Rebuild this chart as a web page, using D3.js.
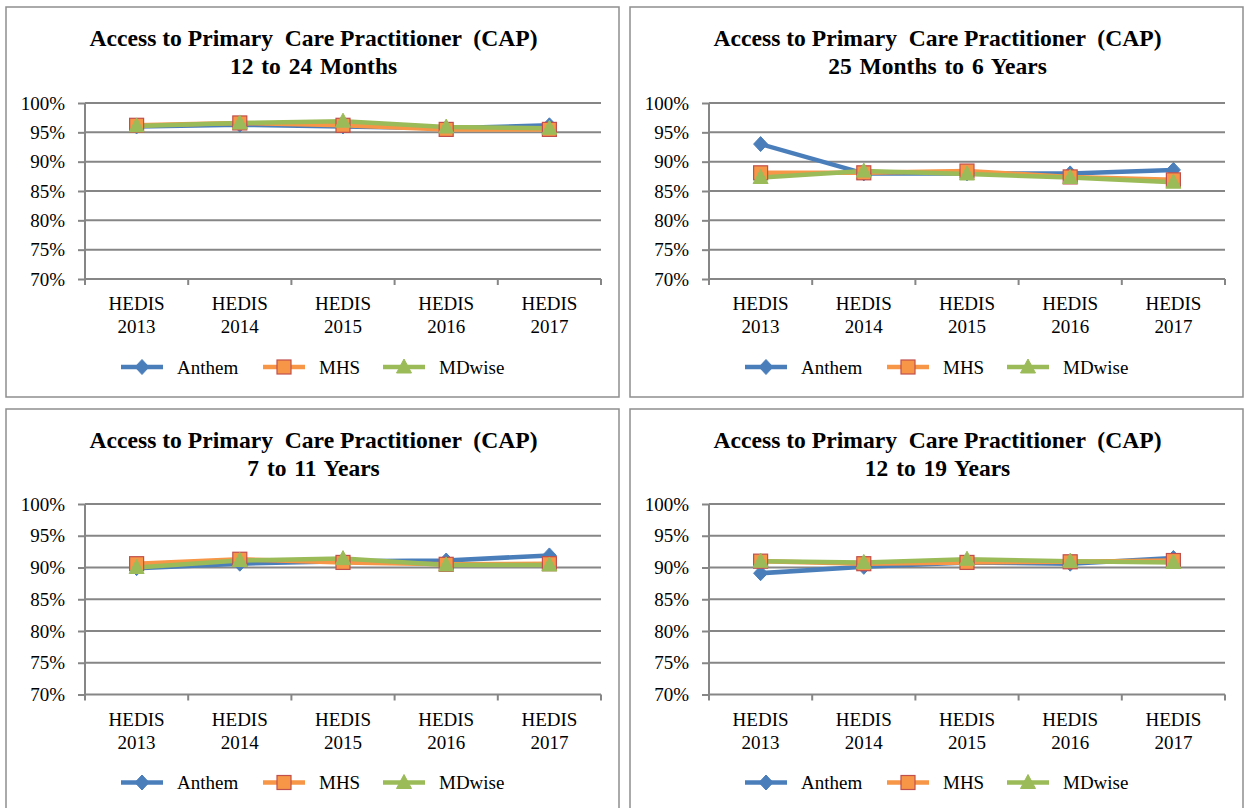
<!DOCTYPE html>
<head>
  <meta charset="utf-8">
  <script src="https://cdn.jsdelivr.net/npm/d3@7"></script>
  <style>
    body { margin:0; background:#fff; }
    text { font-family: "Liberation Serif", "Times New Roman", serif; fill:#000; }
  </style>
</head>
<body>
<script>
// categories and series (percent)
const categories = ["HEDIS 2013", "HEDIS 2014", "HEDIS 2015", "HEDIS 2016", "HEDIS 2017"];
const yTicks = [70, 75, 80, 85, 90, 95, 100];
const seriesNames = ["Anthem", "MHS", "MDwise"];
const titleMain = "Access to Primary  Care Practitioner  (CAP)";
const subtitles = ["12 to 24 Months", "25 Months to 6 Years", "7 to 11 Years", "12 to 19 Years"];

const anthem12to24m = [96.0, 96.3, 96.0, 95.7, 96.2];
const mhs12to24m    = [96.2, 96.6, 96.2, 95.5, 95.5];
const mdwise12to24m = [96.1, 96.6, 96.9, 95.9, 95.7];

const anthem25mto6y = [93.0, 88.0, 88.0, 88.0, 88.6];
const mhs25mto6y    = [88.1, 88.1, 88.4, 87.4, 86.9];
const mdwise25mto6y = [87.3, 88.4, 87.9, 87.3, 86.5];

const anthem7to11y = [89.9, 90.6, 91.0, 91.1, 91.9];
const mhs7to11y    = [90.6, 91.3, 90.8, 90.5, 90.6];
const mdwise7to11y = [90.0, 91.1, 91.4, 90.4, 90.4];

const anthem12to19y = [89.1, 90.1, 90.8, 90.6, 91.5];
const mhs12to19y    = [91.0, 90.6, 90.8, 90.9, 91.1];
const mdwise12to19y = [91.0, 90.8, 91.3, 91.0, 90.8];

const colors = ["#4a7ebb", "#f79646", "#9bbb59"];

let width = 1245, height = 808;
let svg = d3.select("body").append("svg")
  .attr("width", width).attr("height", height);

const panels = [
  { x: 6,   y: 7,   h: 390, top: 96, bottom: 272, sub: subtitles[0], data: [anthem12to24m, mhs12to24m, mdwise12to24m] },
  { x: 630, y: 7,   h: 390, top: 96, bottom: 272, sub: subtitles[1], data: [anthem25mto6y, mhs25mto6y, mdwise25mto6y] },
  { x: 6,   y: 409, h: 410, top: 95, bottom: 285.5, sub: subtitles[2], data: [anthem7to11y, mhs7to11y, mdwise7to11y] },
  { x: 630, y: 409, h: 410, top: 95, bottom: 285.5, sub: subtitles[3], data: [anthem12to19y, mhs12to19y, mdwise12to19y] }
];

function marker(sel, i) {
  if (i === 0) {
    sel.append("path").attr("d", "M0,-7.5L7,0L0,7.5L-7,0Z")
      .attr("fill", colors[0]).attr("stroke", colors[0]).attr("stroke-width", 1);
  } else if (i === 1) {
    sel.append("rect").attr("x", -7).attr("y", -7).attr("width", 14).attr("height", 14)
      .attr("fill", colors[1]).attr("stroke", "#c0504d").attr("stroke-width", 1.2);
  } else {
    sel.append("path").attr("d", "M0,-8L7.5,6L-7.5,6Z")
      .attr("fill", colors[2]).attr("stroke", colors[2]).attr("stroke-width", 1);
  }
}

panels.forEach(p => {
  let g = svg.append("g").attr("transform", `translate(${p.x},${p.y})`);
  let w = 613;
  let left = 79, right = 595;

  g.append("rect").attr("x", 0).attr("y", 0).attr("width", w).attr("height", p.h)
    .attr("fill", "#fff").attr("stroke", "#8e8e8e").attr("stroke-width", 1.5);

  // title
  let t = g.append("text").attr("text-anchor", "middle")
    .style("font-weight", "bold").style("font-size", "23.5px").style("white-space", "pre");
  t.append("tspan").attr("x", w / 2 + 1).attr("y", 39)
    .attr("textLength", 448).attr("lengthAdjust", "spacingAndGlyphs").text(titleMain);
  t.append("tspan").attr("x", w / 2 + 1).attr("y", 67)
    .style("word-spacing", "2px").text(p.sub);

  let x = d3.scaleBand().domain(categories).range([left, right]);
  let y = d3.scaleLinear().domain([70, 100]).range([p.bottom, p.top]);

  // gridlines
  g.selectAll(".grid").data(yTicks).enter().append("line")
    .attr("x1", left).attr("x2", right)
    .attr("y1", d => y(d)).attr("y2", d => y(d))
    .attr("stroke", "#868686").attr("stroke-width", 2);

  // y axis
  let ya = g.append("g").attr("transform", `translate(${left},0)`)
    .call(d3.axisLeft(y).tickValues(yTicks).tickSize(7).tickPadding(13).tickFormat(d => d + "%"));
  ya.select(".domain").attr("stroke", "#868686").attr("stroke-width", 2).attr("d", `M0,${p.top}V${p.bottom}`);
  ya.selectAll(".tick line").attr("stroke", "#868686").attr("stroke-width", 2);
  ya.selectAll(".tick text").style("font-size", "19px").style("font-family", "Liberation Serif");

  // x axis boundary ticks
  let bounds = categories.map(c => x(c)).concat([x.range()[1]]);
  g.selectAll(".xt").data(bounds).enter().append("line")
    .attr("x1", d => d).attr("x2", d => d)
    .attr("y1", p.bottom).attr("y2", p.bottom + 6)
    .attr("stroke", "#868686").attr("stroke-width", 2);

  // x labels
  categories.forEach(c => {
    let parts = c.split(" ");
    let tx = g.append("text").attr("text-anchor", "middle").style("font-size", "19px");
    tx.append("tspan").attr("x", x(c) + x.bandwidth() / 2).attr("y", p.bottom + 31).text(parts[0]);
    tx.append("tspan").attr("x", x(c) + x.bandwidth() / 2).attr("y", p.bottom + 54).text(parts[1]);
  });

  // lines first, then markers
  let line = d3.line().x((d, i) => x(categories[i]) + x.bandwidth() / 2).y(d => y(d));
  p.data.forEach((s, i) => {
    g.append("path").datum(s).attr("d", line)
      .attr("fill", "none").attr("stroke", colors[i]).attr("stroke-width", 4.5)
      .attr("stroke-linejoin", "round");
  });
  p.data.forEach((s, i) => {
    s.forEach((v, j) => {
      let m = g.append("g").attr("transform", `translate(${x(categories[j]) + x.bandwidth() / 2},${y(v)})`);
      marker(m, i);
    });
  });

  // legend
  let ly = p.bottom + 88;
  let lx = [115, 257, 377];
  seriesNames.forEach((n, i) => {
    let lg = g.append("g").attr("transform", `translate(${lx[i]},${ly})`);
    lg.append("line").attr("x1", 0).attr("x2", 42).attr("y1", 0).attr("y2", 0)
      .attr("stroke", colors[i]).attr("stroke-width", 4.5);
    let m = lg.append("g").attr("transform", "translate(21,0)");
    marker(m, i);
    lg.append("text").attr("x", 56).attr("y", 0).attr("dy", ".35em")
      .style("font-size", "19px").text(n);
  });
});
</script>
</body>
